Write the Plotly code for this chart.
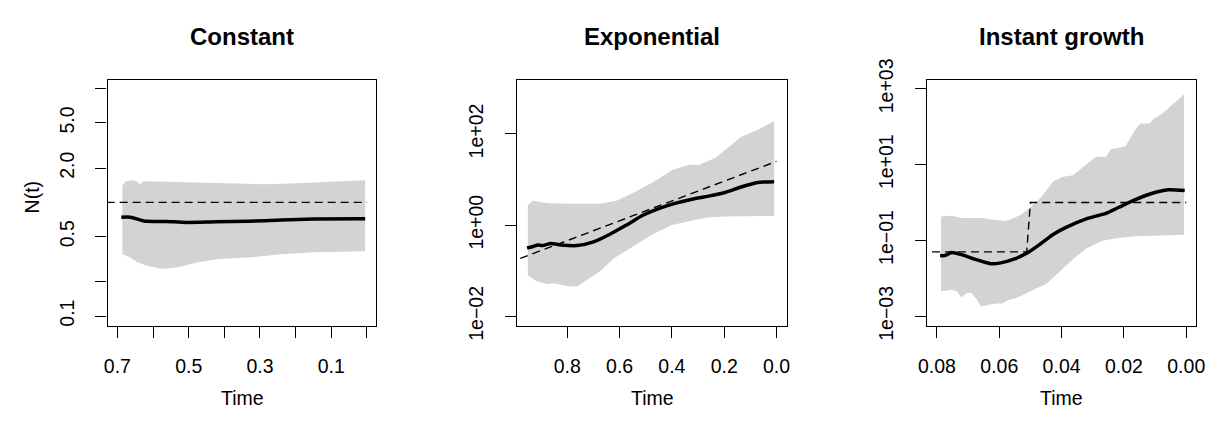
import plotly.graph_objects as go

# ---------------- data ----------------
# Panel 1: Constant
const_upper_t = [0.686, 0.677, 0.659, 0.645, 0.637, 0.626, 0.562, 0.470, 0.286, 0.194, 0.101, 0.005]
const_upper = [1.40, 1.537, 1.565, 1.537, 1.445, 1.537, 1.517, 1.489, 1.445, 1.471, 1.508, 1.565]
const_lower_t = [0.686, 0.663, 0.645, 0.617, 0.576, 0.534, 0.470, 0.415, 0.332, 0.240, 0.148, 0.005]
const_lower = [0.349, 0.328, 0.299, 0.277, 0.261, 0.267, 0.299, 0.318, 0.328, 0.349, 0.364, 0.371]
const_med_t = [0.689, 0.663, 0.626, 0.562, 0.507, 0.424, 0.332, 0.240, 0.148, 0.005]
const_med = [0.741, 0.741, 0.687, 0.679, 0.667, 0.675, 0.682, 0.700, 0.713, 0.718]
const_true_t = [0.73, 0.0]
const_true = [1.0, 1.0]

# Panel 2: Exponential
exp_upper_t = [0.951, 0.932, 0.875, 0.788, 0.674, 0.612, 0.549, 0.474, 0.398, 0.335, 0.298, 0.235, 0.197, 0.135, 0.072, 0.009]
exp_upper = [2.72, 3.43, 3.03, 2.94, 2.94, 3.43, 5.05, 8.6, 16.1, 21.2, 20.8, 29.7, 43.6, 87, 123, 189]
exp_lower_t = [0.951, 0.913, 0.875, 0.850, 0.800, 0.762, 0.725, 0.674, 0.624, 0.549, 0.474, 0.398, 0.323, 0.260, 0.197, 0.072, 0.009]
exp_lower = [0.078, 0.0575, 0.0508, 0.053, 0.0456, 0.0456, 0.062, 0.099, 0.183, 0.339, 0.63, 1.0, 1.26, 1.47, 1.54, 1.59, 1.59]
exp_med_t = [0.954, 0.930, 0.913, 0.895, 0.863, 0.825, 0.762, 0.700, 0.637, 0.574, 0.511, 0.448, 0.385, 0.323, 0.260, 0.197, 0.135, 0.072, 0.009]
exp_med = [0.314, 0.340, 0.366, 0.355, 0.396, 0.366, 0.355, 0.427, 0.63, 1.0, 1.64, 2.33, 3.03, 3.70, 4.32, 5.2, 6.86, 8.6, 8.93]
exp_true_t = [0.98, 0.0]
exp_true = [0.186, 25.0]

# Panel 3: Instant growth
inst_upper_t = [0.0787, 0.0753, 0.0721, 0.0658, 0.0584, 0.0563, 0.0532, 0.0500, 0.0468, 0.0426, 0.0395, 0.0363, 0.0321,
                0.0290, 0.0258, 0.0242, 0.0216, 0.0195, 0.0163, 0.0148, 0.0116, 0.0105, 0.0079, 0.0047, 0.0007]
inst_upper = [0.43, 0.446, 0.392, 0.392, 0.326, 0.357, 0.471, 0.75, 1.31, 3.63, 4.8, 5.27, 10,
              16, 16, 25.5, 28, 30.5, 85, 119, 123, 162, 214, 374, 718]
inst_lower_t = [0.0787, 0.0753, 0.0737, 0.0721, 0.0705, 0.0690, 0.0674, 0.0658, 0.0627, 0.0606, 0.0590, 0.0574,
                0.0542, 0.0500, 0.0448, 0.0405, 0.0363, 0.0321, 0.0268, 0.0216, 0.0163, 0.0111, 0.0007]
inst_lower = [0.00457, 0.00502, 0.00457, 0.00315, 0.00402, 0.00416, 0.00288, 0.0018, 0.00206, 0.00218, 0.00218, 0.00262,
              0.00315, 0.00457, 0.00726, 0.0153, 0.032, 0.0614, 0.0975, 0.117, 0.129, 0.134, 0.142]
inst_med_t = [0.0790, 0.0774, 0.0753, 0.0721, 0.0679, 0.0627, 0.0595, 0.0553, 0.0511, 0.0468, 0.0426, 0.0384,
              0.0321, 0.0258, 0.0216, 0.0163, 0.0111, 0.0058, 0.0005]
inst_med = [0.040, 0.040, 0.048, 0.0423, 0.032, 0.0243, 0.0256, 0.032, 0.0465, 0.081, 0.146, 0.224,
            0.371, 0.518, 0.75, 1.19, 1.73, 2.16, 2.08]
inst_true_t = [0.0816, 0.0512, 0.0500, 0.0]
inst_true = [0.05, 0.05, 1.0, 1.0]

titles = ["Constant", "Exponential", "Instant growth"]

x_tickvals = [
    [0.7, 0.6, 0.5, 0.4, 0.3, 0.2, 0.1, 0.0],
    [0.8, 0.6, 0.4, 0.2, 0.0],
    [0.08, 0.06, 0.04, 0.02, 0.00],
]
x_ticktext = [
    ["0.7", "", "0.5", "", "0.3", "", "0.1", ""],
    ["0.8", "0.6", "0.4", "0.2", "0.0"],
    ["0.08", "0.06", "0.04", "0.02", "0.00"],
]
y_tickvals = [
    [0.1, 0.2, 0.5, 2, 5, 10],
    [0.01, 1, 100],
    [0.001, 0.1, 10, 1000],
]
y_ticktext = [
    ["0.1", "", "0.5", "2.0", "5.0", ""],
    ["1e\u221202", "1e+00", "1e+02"],
    ["1e\u221203", "1e\u221201", "1e+01", "1e+03"],
]

# ---------------- layout geometry ----------------
W, H = 1220, 425
x_ranges = [[0.7276, -0.0268], [0.991, -0.039], [0.0832, -0.0032]]
y_ranges = [[-1.086, 1.081], [-2.209, 3.192], [-3.251, 3.242]]
x_domains = [[100 / W, 373 / W], [516 / W, 789.3 / W], [931.7 / W, 1205 / W]]
y_domain = [1 - 333 / H, 1 - 64 / H]

FONT = "Liberation Sans, Arial, Helvetica, sans-serif"
BAND = "#D3D3D3"

panels = [
    (const_upper_t, const_upper, const_lower_t, const_lower, const_med_t, const_med, const_true_t, const_true),
    (exp_upper_t, exp_upper, exp_lower_t, exp_lower, exp_med_t, exp_med, exp_true_t, exp_true),
    (inst_upper_t, inst_upper, inst_lower_t, inst_lower, inst_med_t, inst_med, inst_true_t, inst_true),
]

fig = go.Figure()
for i, (ut, u, lt, l, mt, m, tt, tv) in enumerate(panels):
    xa = "x" if i == 0 else f"x{i+1}"
    ya = "y" if i == 0 else f"y{i+1}"
    fig.add_trace(go.Scatter(
        x=list(ut) + list(lt)[::-1], y=list(u) + list(l)[::-1],
        xaxis=xa, yaxis=ya, mode="lines", fill="toself", fillcolor=BAND,
        line=dict(width=0, color=BAND), hoverinfo="skip", showlegend=False))
    fig.add_trace(go.Scatter(
        x=tt, y=tv, xaxis=xa, yaxis=ya, mode="lines",
        line=dict(color="black", width=1.4, dash="8px,5px"), showlegend=False))
    fig.add_trace(go.Scatter(
        x=mt, y=m, xaxis=xa, yaxis=ya, mode="lines",
        line=dict(color="black", width=3.5, shape="spline", smoothing=0.6), showlegend=False))

    common = dict(showgrid=False, zeroline=False, showline=True, mirror=True,
                  linecolor="black", linewidth=1.3, ticks="outside", ticklen=11,
                  tickwidth=1.3, tickcolor="black",
                  tickfont=dict(family=FONT, size=19.5, color="black"))
    xkey = "xaxis" if i == 0 else f"xaxis{i+1}"
    ykey = "yaxis" if i == 0 else f"yaxis{i+1}"
    fig.update_layout(**{
        xkey: dict(common, domain=x_domains[i], range=x_ranges[i], anchor=ya,
                   tickmode="array", tickvals=x_tickvals[i], ticktext=x_ticktext[i],
                   ticklabelstandoff=12),
        ykey: dict(common, domain=y_domain, range=y_ranges[i], type="log", anchor=xa,
                   tickmode="array", tickvals=y_tickvals[i], ticktext=y_ticktext[i],
                   tickangle=-90, ticklabelstandoff=14),
    })

annotations = []
for i in range(3):
    xc = (x_domains[i][0] + x_domains[i][1]) / 2
    annotations.append(dict(text=f"<b>{titles[i]}</b>", x=xc, y=1 - 17 / H, xref="paper", yref="paper",
                            xanchor="center", yanchor="middle", showarrow=False,
                            font=dict(family=FONT, size=24, color="black")))
    annotations.append(dict(text="Time", x=xc, y=1 - 412 / H, xref="paper", yref="paper",
                            xanchor="center", yanchor="middle", showarrow=False,
                            font=dict(family=FONT, size=19.5, color="black")))
annotations.append(dict(text="N(t)", x=23 / W, y=1 - 192 / H, xref="paper", yref="paper",
                        xanchor="center", yanchor="middle", textangle=-90, showarrow=False,
                        font=dict(family=FONT, size=19.5, color="black")))

fig.update_layout(width=W, height=H, autosize=False,
                  margin=dict(l=0, r=0, t=0, b=0),
                  paper_bgcolor="white", plot_bgcolor="white",
                  annotations=annotations, showlegend=False)

fig.write_html("out.html", config={"displayModeBar": False})

# remove the browser's default body margin so the figure fills the window exactly
with open("out.html", "r", encoding="utf-8") as f:
    html = f.read()
html = html.replace("<head>", "<head><style>html,body{margin:0;padding:0;overflow:hidden;}</style>", 1)
with open("out.html", "w", encoding="utf-8") as f:
    f.write(html)
